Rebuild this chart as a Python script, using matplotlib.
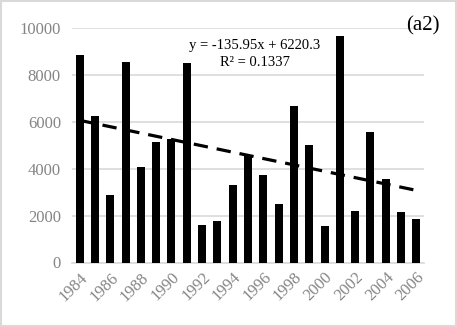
"""Annual bars with linear trend, panel (a2)."""

import matplotlib

matplotlib.use("Agg")
import matplotlib.pyplot as plt
import numpy as np
from matplotlib.patches import Rectangle

years = np.arange(1984, 2007)
values = [
    8850, 6250, 2880, 8550, 4080, 5130, 5260, 8510, 1580, 1760, 3300, 4550,
    3720, 2490, 6670, 5000, 1550, 9660, 2190, 5560, 3550, 2150, 1850,
]
year_labels = [str(y) for y in years[::2]]
equation = "y = -135.95x + 6220.3"
r_squared = "R² = 0.1337"
panel_label = "(a2)"

GRAY = "#858585"
GRID = "#d9d9d9"

plt.rcParams["font.family"] = ["Liberation Serif", "DejaVu Serif"]

fig = plt.figure(figsize=(4.57, 3.27), dpi=100)
ax = fig.add_axes([72 / 457, 1 - 262.5 / 327, (424 - 72) / 457, (262.5 - 28) / 327])

x = np.arange(1, len(values) + 1)
ax.bar(x, values, width=0.52, color="black", zorder=3)

# Excel-style linear trend on the series index
slope, intercept = np.polyfit(x, values, 1)
ax.plot(x, slope * x + intercept, color="black", linewidth=2.3,
        linestyle=(0, (4.5, 2.8)), zorder=4)

ax.set_xlim(0.5, len(values) + 0.5)
ax.set_ylim(0, 10000)
ax.set_yticks(np.arange(0, 10001, 2000))
ax.set_xticks(x[::2], year_labels, rotation=45, ha="right", rotation_mode="anchor")
ax.tick_params(axis="both", length=0, labelsize=12, labelcolor=GRAY)
ax.tick_params(axis="x", pad=5)
ax.tick_params(axis="y", pad=8)
ax.grid(axis="y", color=GRID, linewidth=1.2, zorder=0)
for side in ("top", "right", "left"):
    ax.spines[side].set_visible(False)
ax.spines["bottom"].set_color(GRID)
ax.spines["bottom"].set_linewidth(1.2)

fig.text(255 / 457, 1 - 45 / 327, equation, fontsize=10.5, ha="center", va="center")
fig.text(255 / 457, 1 - 62 / 327, r_squared, fontsize=10.5, ha="center", va="center")
fig.text(423 / 457, 1 - 26 / 327, panel_label, fontsize=15, ha="center", va="center")

fig.patches.append(Rectangle((0.002, 0.003), 0.996, 0.994, transform=fig.transFigure,
                             fill=False, edgecolor=GRID, linewidth=1.5))

fig.savefig("out.png", dpi=100)
